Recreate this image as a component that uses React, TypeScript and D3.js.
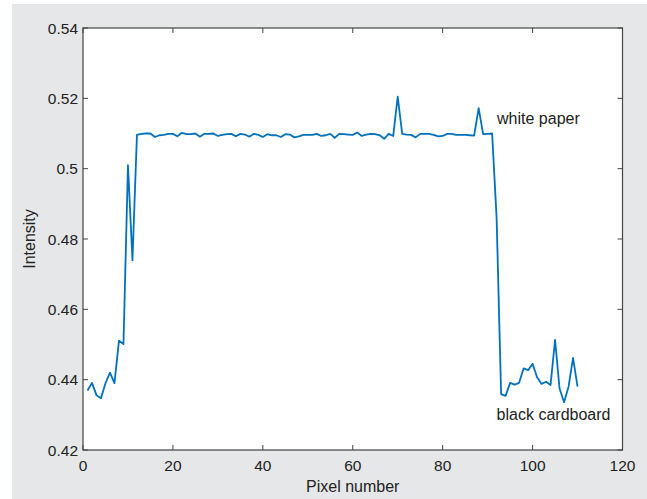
import React, { useEffect, useRef } from 'react'
import * as d3 from 'd3'

// intensity along the scan line, pixel 1..110
const intensity = [
  0.4369, 0.4391, 0.4356, 0.4347, 0.4390, 0.4420, 0.4390, 0.4511, 0.4501, 0.5010,
  0.4740, 0.5096, 0.5099, 0.5100, 0.5100, 0.5090, 0.5095, 0.5096, 0.5099, 0.5099,
  0.5092, 0.5102, 0.5098, 0.5098, 0.5100, 0.5091, 0.5099, 0.5099, 0.5100, 0.5093,
  0.5096, 0.5098, 0.5099, 0.5092, 0.5099, 0.5097, 0.5091, 0.5099, 0.5096, 0.5090,
  0.5098, 0.5095, 0.5095, 0.5090, 0.5098, 0.5097, 0.5089, 0.5092, 0.5096, 0.5096,
  0.5096, 0.5099, 0.5093, 0.5095, 0.5099, 0.5088, 0.5099, 0.5098, 0.5097, 0.5096,
  0.5103, 0.5093, 0.5097, 0.5099, 0.5098, 0.5095, 0.5085, 0.5099, 0.5093, 0.5205,
  0.5099, 0.5097, 0.5096, 0.5089, 0.5099, 0.5099, 0.5099, 0.5096, 0.5092, 0.5093,
  0.5099, 0.5099, 0.5096, 0.5096, 0.5096, 0.5095, 0.5094, 0.5172, 0.5098, 0.5099,
  0.5100, 0.4860, 0.4359, 0.4354, 0.4391, 0.4386, 0.4391, 0.4432, 0.4427, 0.4445,
  0.4407, 0.4388, 0.4394, 0.4385, 0.4513, 0.4375, 0.4336, 0.4380, 0.4462, 0.4380,
]
const xTicks = [0, 20, 40, 60, 80, 100, 120]
const yTicks = [0.42, 0.44, 0.46, 0.48, 0.5, 0.52, 0.54]
const labels = [
  { text: 'white paper', x: 92.1, y: 0.5127 },
  { text: 'black cardboard', x: 92.0, y: 0.4284 },
]

export default function App() {
  const ref = useRef<SVGSVGElement>(null)

  useEffect(() => {
    const svg = d3.select(ref.current)
    svg.selectAll('*').remove()
    const W = 647, H = 499
    const left = 83, right = 622.5, top = 28, bottom = 450
    const font = 'Liberation Sans, Arial, sans-serif'
    const axisColor = '#444'

    svg.append('rect')
      .attr('x', 12).attr('y', 4)
      .attr('width', W - 12).attr('height', H - 4)
      .attr('fill', '#e6e7e8')

    const x = d3.scaleLinear().domain([0, 120]).range([left, right])
    const y = d3.scaleLinear().domain([0.42, 0.54]).range([bottom, top])

    svg.append('rect')
      .attr('x', left).attr('y', top)
      .attr('width', right - left).attr('height', bottom - top)
      .attr('fill', 'white')

    // inward ticks on all four sides (matlab box)
    const tk = 5
    const ticks = svg.append('g').attr('stroke', axisColor).attr('stroke-width', 1)
    xTicks.forEach(t => {
      ticks.append('line').attr('x1', x(t)).attr('x2', x(t)).attr('y1', bottom).attr('y2', bottom - tk)
      ticks.append('line').attr('x1', x(t)).attr('x2', x(t)).attr('y1', top).attr('y2', top + tk)
    })
    yTicks.forEach(t => {
      ticks.append('line').attr('x1', left).attr('x2', left + tk).attr('y1', y(t)).attr('y2', y(t))
      ticks.append('line').attr('x1', right).attr('x2', right - tk).attr('y1', y(t)).attr('y2', y(t))
    })

    const line = d3.line<number>()
      .x((d, i) => x(i + 1))
      .y(d => y(d))
    svg.append('path')
      .datum(intensity)
      .attr('d', line)
      .attr('fill', 'none')
      .attr('stroke', '#0072bd')
      .attr('stroke-width', 1.8)
      .attr('stroke-linejoin', 'round')

    svg.append('rect')
      .attr('x', left).attr('y', top)
      .attr('width', right - left).attr('height', bottom - top)
      .attr('fill', 'none')
      .attr('stroke', axisColor)
      .attr('stroke-width', 1.2)

    svg.append('g').selectAll('text')
      .data(xTicks)
      .enter()
      .append('text')
      .attr('x', d => x(d))
      .attr('y', bottom + 21)
      .attr('text-anchor', 'middle')
      .attr('font-family', font)
      .attr('font-size', 15.5)
      .attr('fill', '#222')
      .text(d => d)

    svg.append('g').selectAll('text')
      .data(yTicks)
      .enter()
      .append('text')
      .attr('x', left - 5)
      .attr('y', d => y(d) + 5.5)
      .attr('text-anchor', 'end')
      .attr('font-family', font)
      .attr('font-size', 15.5)
      .attr('fill', '#222')
      .text(d => d)

    svg.append('text')
      .attr('x', (left + right) / 2)
      .attr('y', 492)
      .attr('text-anchor', 'middle')
      .attr('font-family', font)
      .attr('font-size', 16)
      .attr('fill', '#222')
      .text('Pixel number')

    svg.append('text')
      .attr('transform', 'translate(35,' + ((top + bottom) / 2) + ') rotate(-90)')
      .attr('text-anchor', 'middle')
      .attr('font-family', font)
      .attr('font-size', 16)
      .attr('fill', '#222')
      .text('Intensity')

    svg.append('g').selectAll('text')
      .data(labels)
      .enter()
      .append('text')
      .attr('x', d => x(d.x))
      .attr('y', d => y(d.y))
      .attr('font-family', font)
      .attr('font-size', 16)
      .attr('fill', '#222')
      .text(d => d.text)
  }, [])

  return (
    <svg ref={ref} width={647} height={499}
      style={{ position: 'absolute', left: 0, top: 0, display: 'block' }} />
  )
}
